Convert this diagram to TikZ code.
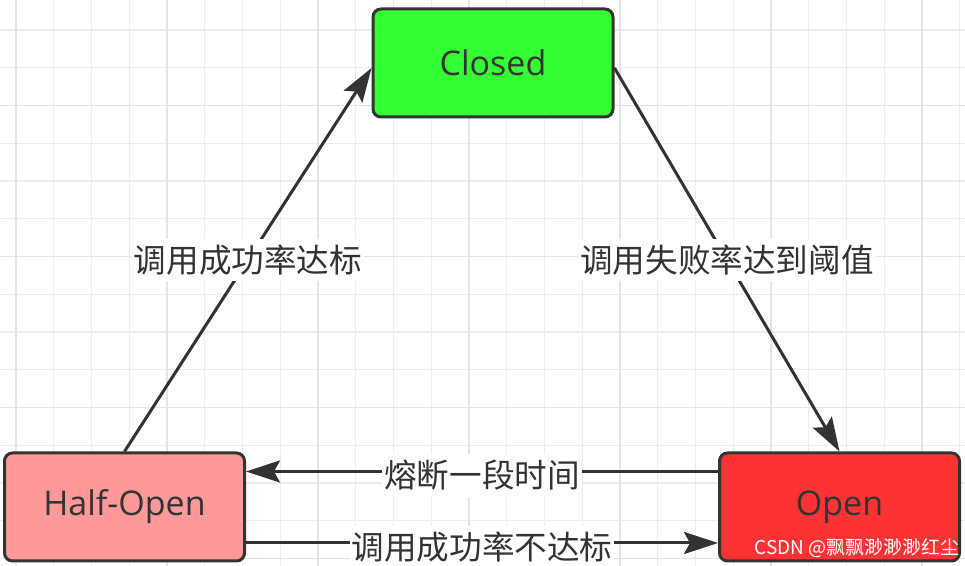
\documentclass[tikz,border=0pt]{standalone}
\usepackage{fontspec}
\setmainfont{Open Sans}
\newfontfamily\cjk{Noto Sans CJK SC}
\usetikzlibrary{arrows.meta,positioning}
\definecolor{closedgreen}{RGB}{51,255,51}
\definecolor{halfpink}  {RGB}{255,153,153}
\definecolor{openred}   {RGB}{255,51,51}
\definecolor{inkgray}   {RGB}{51,51,51}
\definecolor{gridminor} {RGB}{237,237,237}
\definecolor{gridmajor} {RGB}{229,229,229}
\tikzset{
  statebox/.style={draw=inkgray, line width=1.5pt, rounded corners=4pt,
                   align=center, minimum width=120pt, minimum height=54pt,
                   font=\fontsize{17}{20}\selectfont, text=inkgray,
                   inner sep=0pt},
  closedbox/.style={statebox, fill=closedgreen},
  halfbox/.style  ={statebox, fill=halfpink},
  openbox/.style  ={statebox, fill=openred},
  trans/.style    ={-{Stealth[length=17pt, width=11pt, inset=3pt]},
                    line width=1.5pt, draw=inkgray},
  translbl/.style ={fill=white, text=inkgray, inner xsep=1pt, inner ysep=3pt,
                    font=\cjk\fontsize{16.3}{18}\selectfont},
  gridline/.style ={draw=gridminor, line width=0.6pt},
  gridbold/.style ={draw=gridmajor, line width=0.6pt},
}

\begin{document}
\begin{tikzpicture}[x=0.5pt, y=-0.5pt]
  \useasboundingbox (0,0) rectangle (965,566);
  \fill[white] (0,0) rectangle (965,566);
  \foreach \gx in {0,...,25}
    \draw[gridline] ({16+37.75*\gx},0) -- ({16+37.75*\gx},566);
  \foreach \gy in {0,...,14}
    \draw[gridline] (0,{30+37.75*\gy}) -- (965,{30+37.75*\gy});
  \foreach \gx in {0,4,...,24}
    \draw[gridbold] ({16+37.75*\gx},0) -- ({16+37.75*\gx},566);
  \foreach \gy in {2,6,10,14}
    \draw[gridbold] (0,{30+37.75*\gy}) -- (965,{30+37.75*\gy});

  \node[closedbox] (closed) at (493,63) {\raisebox{-1pt}{Closed}};
  \node[halfbox] (half) at (124.5,507) {Half-Open};
  \node[openbox, right=236pt of half] (open) {Open};

  \draw[trans] (half.north) -- node[translbl] {调用成功率达标} ([yshift=-2.5pt]closed.west);
  \draw[trans] ([yshift=-2.5pt]closed.east) -- node[translbl] {调用失败率达到阈值} (open.north);
  \draw[trans] ([yshift=17.75pt]open.west) -- node[translbl, yshift=-2pt] {熔断一段时间} ([yshift=17.75pt]half.east);
  \draw[trans] ([yshift=-18pt]half.east) -- node[translbl, yshift=-2pt] {调用成功率不达标} ([yshift=-18pt]open.west);

  \node[anchor=east, text=white, inner sep=0pt,
        font=\cjk\fontsize{9.5}{11}\selectfont] (mark) at (960,548) {CSDN @飘飘渺渺渺红尘};
\end{tikzpicture}
\end{document}
